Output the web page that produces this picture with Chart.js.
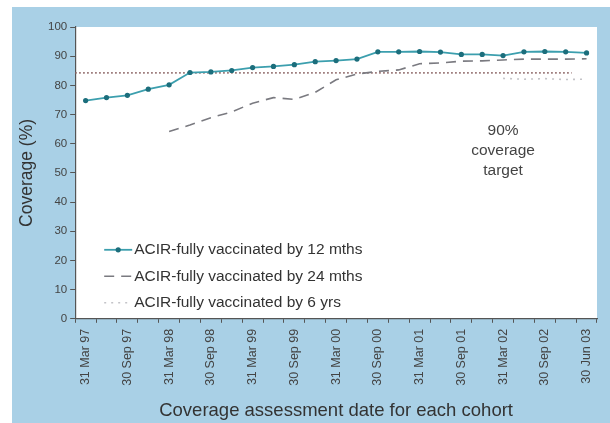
<!DOCTYPE html>
<html>
<head>
<meta charset="utf-8">
<script src="https://cdn.jsdelivr.net/npm/chart.js@4"></script>
<style>
  html, body { margin: 0; padding: 0; background: #fff; }
  #wrap { width: 610px; height: 423px; }
</style>
</head>
<body>
<div id="wrap"><canvas id="coverage"></canvas></div>
<script>
// cohort assessment dates (quarterly, Mar 03 missing in source)
var quarters = ['31 Mar 97', '30 Jun 97', '30 Sep 97', '31 Dec 97', '31 Mar 98', '30 Jun 98', '30 Sep 98', '31 Dec 98',
                '31 Mar 99', '30 Jun 99', '30 Sep 99', '31 Dec 99', '31 Mar 00', '30 Jun 00', '30 Sep 00', '31 Dec 00',
                '31 Mar 01', '30 Jun 01', '30 Sep 01', '31 Dec 01', '31 Mar 02', '30 Jun 02', '30 Sep 02', '31 Dec 02', '30 Jun 03'];

var by12mths = [74.8, 75.8, 76.6, 78.7, 80.2, 84.4, 84.6, 85.1, 86.1, 86.5, 87.1, 88.1, 88.5,
                89.0, 91.5, 91.5, 91.6, 91.4, 90.6, 90.6, 90.2, 91.5, 91.6, 91.5, 91.1];
var by24mths = [null, null, null, null, 64.2, 66.4, 68.9, 70.9, 73.9, 75.8, 75.2, 77.6, 81.9,
                83.9, 84.8, 85.3, 87.4, 87.7, 88.3, 88.4, 88.7, 89.0, 89.0, 89.0, 89.1];
var by6yrs = [null, null, null, null, null, null, null, null, null, null, null, null, null,
              null, null, null, null, null, null, null, 82.4, 82.1, 82.3, 82.0, 82.1];
var targetLevel = 84.3;
var targetText = ['90%', 'coverage', 'target'];
var yTicks = [0, 10, 20, 30, 40, 50, 60, 70, 80, 90, 100];

var txt = '#333';
var fontFam = '"Liberation Sans", Arial, sans-serif';

// backgrounds: blue frame, white plot area
var bgPlugin = {
    id: 'bg',
    beforeDraw: function(chart) {
        var ctx = chart.ctx, a = chart.chartArea;
        ctx.save();
        ctx.fillStyle = '#a9d0e6';
        ctx.fillRect(12, 7, chart.width - 12, chart.height - 7);
        ctx.fillStyle = '#ffffff';
        ctx.fillRect(a.left, a.top, a.right - a.left, a.bottom - a.top);
        ctx.restore();
    }
};

// target line, annotation and inside legend
var extrasPlugin = {
    id: 'extras',
    beforeDatasetsDraw: function(chart) {
        var ctx = chart.ctx, a = chart.chartArea;
        var y = chart.scales.y.getPixelForValue(targetLevel);
        var xEnd = chart.scales.x.getPixelForValue(quarters.length - 2) + 6;
        ctx.save();
        ctx.strokeStyle = '#8a6262';
        ctx.lineWidth = 1.7;
        ctx.setLineDash([1.5, 2.5]);
        ctx.beginPath();
        ctx.moveTo(a.left, y);
        ctx.lineTo(xEnd, y);
        ctx.stroke();
        ctx.restore();
    },
    afterDraw: function(chart) {
        var ctx = chart.ctx, a = chart.chartArea;
        ctx.save();
        // annotation
        ctx.fillStyle = '#444';
        ctx.font = '15.5px ' + fontFam;
        ctx.textAlign = 'center';
        ctx.textBaseline = 'middle';
        var ax = chart.scales.x.getPixelForValue(20.0);
        targetText.forEach(function(t, i) {
            ctx.fillText(t, ax, chart.scales.y.getPixelForValue(64.5) + i * 20);
        });
        // legend
        ctx.textAlign = 'left';
        ctx.font = '15.5px ' + fontFam;
        ctx.fillStyle = txt;
        chart.data.datasets.forEach(function(ds, i) {
            var ly = a.bottom - 69 + i * 26.5;
            var x0 = a.left + 29, x1 = a.left + 57;
            ctx.save();
            ctx.strokeStyle = ds.borderColor;
            ctx.lineWidth = ds.borderWidth;
            ctx.setLineDash(ds.borderDash || []);
            ctx.beginPath();
            ctx.moveTo(x0, ly);
            ctx.lineTo(x1, ly);
            ctx.stroke();
            if (ds.pointRadius > 0) {
                ctx.fillStyle = ds.pointBackgroundColor;
                ctx.beginPath();
                ctx.arc((x0 + x1) / 2, ly, ds.pointRadius, 0, Math.PI * 2);
                ctx.fill();
            }
            ctx.restore();
            ctx.fillText(ds.label, x1 + 2, ly);
        });
        ctx.restore();
    }
};

var myChart = new Chart(document.getElementById('coverage'), {
    type: 'line',
    data: {
        labels: quarters,
        datasets: [{
            label: 'ACIR-fully vaccinated by 12 mths',
            data: by12mths,
            borderColor: '#3c9fae',
            borderWidth: 1.8,
            pointRadius: 2.6,
            pointBackgroundColor: '#1c6e7c',
            pointBorderColor: '#1c6e7c',
            pointBorderWidth: 0,
            tension: 0
        }, {
            label: 'ACIR-fully vaccinated by 24 mths',
            data: by24mths,
            borderColor: '#7a7a80',
            borderWidth: 1.6,
            borderDash: [10, 7],
            pointRadius: 0,
            tension: 0
        }, {
            label: 'ACIR-fully vaccinated by 6 yrs',
            data: by6yrs,
            borderColor: '#c4c4c8',
            borderWidth: 1.6,
            borderDash: [2, 5],
            pointRadius: 0,
            tension: 0
        }]
    },
    options: {
        responsive: true,
        maintainAspectRatio: false,
        animation: false,
        layout: { padding: { left: 17, right: 13, top: 27, bottom: 1 } },
        plugins: {
            legend: { display: false },
            tooltip: { enabled: false }
        },
        scales: {
            x: {
                offset: true,
                grid: {
                    offset: true,
                    drawOnChartArea: false,
                    drawTicks: true,
                    tickLength: 4,
                    color: '#555'
                },
                border: { color: '#555', width: 1.2 },
                ticks: {
                    autoSkip: false,
                    minRotation: 90,
                    maxRotation: 90,
                    padding: 6,
                    color: '#444',
                    font: { size: 12.5, family: fontFam },
                    callback: function(v, i) {
                        return i % 2 === 0 ? quarters[i] : '';
                    }
                },
                title: {
                    display: true,
                    text: 'Coverage assessment date for each cohort',
                    color: txt,
                    font: { size: 18.5, family: fontFam },
                    padding: { top: 8, bottom: 0 }
                }
            },
            y: {
                min: 0,
                max: 100,
                afterBuildTicks: function(axis) {
                    axis.ticks = yTicks.map(function(v) { return { value: v }; });
                },
                grid: {
                    drawOnChartArea: false,
                    tickLength: 5,
                    color: '#555'
                },
                border: { color: '#555', width: 1.2 },
                ticks: {
                    padding: 3,
                    color: '#444',
                    font: { size: 11.5, family: fontFam }
                },
                title: {
                    display: true,
                    text: 'Coverage (%)',
                    color: txt,
                    font: { size: 17.5, family: fontFam },
                    padding: { top: 0, bottom: 7 }
                }
            }
        }
    },
    plugins: [bgPlugin, extrasPlugin]
});
</script>
</body>
</html>
